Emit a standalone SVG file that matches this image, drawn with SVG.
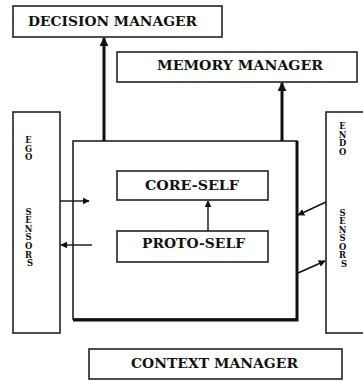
<svg xmlns="http://www.w3.org/2000/svg" width="363" height="381" viewBox="0 0 363 381">
  <defs>
    <marker id="head" viewBox="0 0 10 10" refX="9" refY="5" markerWidth="3" markerHeight="3" orient="auto" markerUnits="strokeWidth">
      <path d="M0,0 L10,5 L0,10 z" fill="#111"/>
    </marker>
    <marker id="headThin" viewBox="0 0 10 10" refX="9" refY="5" markerWidth="5" markerHeight="5" orient="auto" markerUnits="strokeWidth">
      <path d="M0,0 L10,5 L0,10 z" fill="#111"/>
    </marker>
  </defs>
  <style>
    .box { fill: #fff; stroke: #222; stroke-width: 1.6; }
    .lbl { font-family: "DejaVu Serif", "Liberation Serif", serif; font-weight: bold; fill: #111; }
    .big { font-size: 12.5px; }
    .col { font-size: 8.4px; text-anchor: middle; }
    .thick { stroke: #111; stroke-width: 3; fill: none; marker-end: url(#head); }
    .thin { stroke: #111; stroke-width: 1.4; fill: none; marker-end: url(#headThin); }
  </style>
  <rect width="363" height="381" fill="#fff"/>

  <g id="decision-manager">
    <rect class="box" x="13" y="6" width="209" height="31"/>
    <text class="lbl big" x="28" y="26" textLength="169" lengthAdjust="spacingAndGlyphs">DECISION MANAGER</text>
  </g>

  <g id="memory-manager">
    <rect class="box" x="117" y="52" width="240" height="30"/>
    <text class="lbl big" x="157" y="70" textLength="166" lengthAdjust="spacingAndGlyphs">MEMORY MANAGER</text>
  </g>

  <g id="ego-sensors">
    <rect class="box" x="13" y="112" width="47" height="221"/>
    <text class="lbl col">
      <tspan x="30" y="143">E</tspan>
      <tspan x="30" y="151.5">G</tspan>
      <tspan x="30" y="160">O</tspan>
      <tspan x="30" y="214.5">S</tspan>
      <tspan x="30" y="223">E</tspan>
      <tspan x="30" y="231.5">N</tspan>
      <tspan x="30" y="240">S</tspan>
      <tspan x="30" y="249">O</tspan>
      <tspan x="30" y="257.5">R</tspan>
      <tspan x="30" y="266">S</tspan>
    </text>
  </g>

  <g id="endo-sensors">
    <rect class="box" x="326" y="112" width="50" height="221"/>
    <text class="lbl col">
      <tspan x="344" y="129">E</tspan>
      <tspan x="344" y="137.5">N</tspan>
      <tspan x="344" y="146">D</tspan>
      <tspan x="344" y="154.5">O</tspan>
      <tspan x="344" y="215.5">S</tspan>
      <tspan x="344" y="224">E</tspan>
      <tspan x="344" y="232.5">N</tspan>
      <tspan x="344" y="241">S</tspan>
      <tspan x="344" y="249.5">O</tspan>
      <tspan x="344" y="258">R</tspan>
      <tspan x="344" y="266.5">S</tspan>
    </text>
  </g>

  <g id="self-system">
    <rect class="box" x="73" y="141" width="224" height="178"/>
    <!-- heavier right and bottom edges -->
    <path d="M297,141 V320 H73" fill="none" stroke="#111" stroke-width="3"/>
  </g>

  <g id="core-self">
    <rect class="box" x="117" y="171" width="151" height="29"/>
    <text class="lbl big" x="145" y="190" textLength="94" lengthAdjust="spacingAndGlyphs">CORE-SELF</text>
  </g>

  <g id="proto-self">
    <rect class="box" x="117" y="231" width="151" height="31"/>
    <text class="lbl big" x="142" y="248" textLength="103" lengthAdjust="spacingAndGlyphs">PROTO-SELF</text>
  </g>

  <g id="context-manager">
    <rect class="box" x="89" y="349" width="253" height="30"/>
    <text class="lbl big" x="131" y="368" textLength="167" lengthAdjust="spacingAndGlyphs">CONTEXT MANAGER</text>
  </g>

  <g id="connectors">
    <line class="thick" x1="104" y1="141" x2="104" y2="38"/>
    <line class="thick" x1="282" y1="141" x2="282" y2="83"/>
    <line class="thin" x1="208" y1="231" x2="208" y2="201"/>
    <line class="thin" x1="60" y1="201" x2="89" y2="201"/>
    <line class="thin" x1="92" y1="245" x2="61" y2="245"/>
    <line class="thin" x1="326" y1="202" x2="298" y2="215"/>
    <line class="thin" x1="298" y1="273" x2="325" y2="261"/>
  </g>
</svg>
